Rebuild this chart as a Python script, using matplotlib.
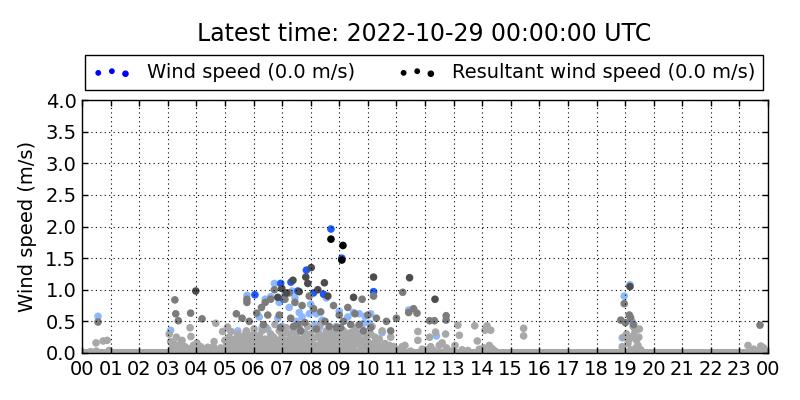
import numpy as np
import matplotlib
matplotlib.use("Agg")
import matplotlib.pyplot as plt
from matplotlib.collections import PathCollection
from matplotlib.legend_handler import HandlerPathCollection

# ---------------- data (hour of day, speed in m/s) ----------------
title_text = "Latest time: 2022-10-29 00:00:00 UTC"
hour_labels = ["%02d" % (h % 24) for h in range(25)]
y_ticks = [0.0, 0.5, 1.0, 1.5, 2.0, 2.5, 3.0, 3.5, 4.0]

# calm readings (0.0 m/s), one per minute
calm_hours = np.arange(0, 24.01, 1 / 60)
calm_values = np.zeros_like(calm_hours)

# wind speed, strong blue (most recent)
ws_blue_h = [8.71, 9.09, 7.85, 7.31, 6.95, 7.55, 8.45, 10.2, 6.05, 7.05, 8.1]
ws_blue_v = [1.96, 1.50, 1.31, 1.12, 1.10, 0.98, 0.93, 0.97, 0.92, 0.85, 0.95]

# wind speed, light blue
ws_light_h = [0.56, 3.10, 5.77, 6.41, 6.73, 6.60, 6.90, 7.10, 7.25, 7.45, 7.60, 7.70,
              8.00, 8.20, 8.40, 8.55, 8.90, 9.30, 9.50, 9.70, 9.85, 10.05, 6.20, 6.50,
              7.00, 7.80, 8.70, 9.20, 10.50, 18.97, 19.17, 19.25, 18.90, 12.40, 11.43,
              7.35, 7.95, 8.30, 9.00, 6.30, 10.10, 5.45, 6.85, 7.50, 8.15, 9.60, 9.90]
ws_light_v = [0.58, 0.36, 0.91, 0.85, 1.10, 0.89, 0.80, 0.92, 0.72, 0.87, 0.64, 0.57,
              0.77, 0.62, 0.52, 0.87, 0.42, 0.57, 0.64, 0.62, 0.47, 0.47, 0.57, 0.37,
              0.42, 0.32, 0.27, 0.32, 0.32, 0.90, 1.08, 0.50, 0.24, 0.27, 0.68,
              0.98, 0.62, 0.40, 0.66, 0.40, 0.62, 0.35, 0.55, 0.50, 0.45, 0.40, 0.58]

# resultant wind speed, black (most recent)
rs_black_h = [8.71, 9.13, 9.09]
rs_black_v = [1.80, 1.70, 1.47]

# resultant wind speed, dark grey
rs_dark_h = [8.02, 7.83, 7.90, 8.48, 10.20, 11.46, 3.98, 7.38, 6.99, 8.60, 7.60,
             12.35, 6.85, 8.25, 9.50, 19.17, 7.15]
rs_dark_v = [1.35, 1.20, 1.10, 1.11, 1.20, 1.19, 0.98, 1.15, 1.02, 0.90, 0.97,
             0.85, 0.88, 1.00, 0.88, 1.05, 0.95]

# resultant wind speed, mid grey
rs_mid_h = [0.56, 3.25, 5.77, 5.77, 6.41, 6.28, 6.11, 6.73, 6.60, 7.10, 7.25, 7.45,
            7.70, 7.95, 8.10, 8.35, 8.80, 9.00, 9.30, 9.55, 9.80, 10.00, 10.30, 10.65,
            11.22, 11.60, 11.00, 18.97, 19.15, 19.30, 18.85, 6.90, 7.30, 7.55, 8.50,
            9.15, 9.70, 10.80, 5.40, 5.60, 5.85, 6.50, 4.20, 3.80, 3.37, 3.28, 23.72,
            11.43, 11.72, 12.16, 12.33, 12.74, 12.74, 19.01, 19.19, 10.20,
            6.95, 7.40, 7.80, 8.20, 8.65, 9.05, 9.40, 9.85, 10.10, 6.35, 7.65, 8.90]
rs_mid_v = [0.49, 0.84, 0.85, 0.80, 0.80, 0.72, 0.63, 1.00, 0.85, 0.85, 0.95, 0.80,
            0.75, 0.90, 0.70, 0.65, 0.75, 0.60, 0.72, 0.62, 0.85, 0.60, 0.55, 0.50,
            0.96, 0.70, 0.55, 0.78, 0.60, 0.45, 0.52, 0.60, 0.55, 0.45, 0.50,
            0.50, 0.45, 0.35, 0.62, 0.55, 0.50, 0.60, 0.54, 0.63, 0.51, 0.62, 0.44,
            0.64, 0.63, 0.51, 0.51, 0.59, 0.52, 0.48, 0.56, 0.90,
            0.40, 0.42, 0.48, 0.38, 0.42, 0.40, 0.45, 0.35, 0.40, 0.45, 0.35, 0.40]

# resultant wind speed, light grey (older readings)
rs_light_h = [0.30, 0.50, 0.49, 0.74, 0.88, 0.95,
              3.05, 3.10, 3.15, 3.20, 3.30, 3.35, 3.45, 3.50, 3.55, 3.60, 3.70, 3.78,
              3.81, 3.90, 3.95, 4.05, 4.15, 4.30, 4.40, 4.50, 4.68, 4.60, 4.75, 4.85,
              4.92, 5.00, 5.05, 5.09, 5.15, 5.21, 5.25, 5.30, 5.35, 5.40, 5.45, 5.50,
              5.55, 5.60, 5.65, 5.70, 5.75, 5.80, 5.85, 5.90, 5.95, 6.00, 6.05, 6.10,
              6.15, 6.20, 6.25, 6.30, 6.35, 6.40, 6.45, 6.50, 6.55, 6.60, 6.65, 6.70,
              6.75, 6.80, 6.85, 6.90, 6.95, 7.00, 7.05, 7.10, 7.15, 7.20, 7.25, 7.30,
              7.35, 7.40, 7.45, 7.50, 7.55, 7.60, 7.65, 7.70, 7.75, 7.80, 7.85, 7.90,
              7.95, 8.00, 8.05, 8.10, 8.15, 8.20, 8.25, 8.30, 8.35, 8.40, 8.45, 8.50,
              8.55, 8.60, 8.65, 8.70, 8.75, 8.80, 8.85, 8.90, 8.95, 9.00, 9.05, 9.10,
              9.15, 9.20, 9.25, 9.30, 9.35, 9.40, 9.45, 9.50, 9.55, 9.60, 9.65, 9.70,
              9.75, 9.80, 9.85, 9.90, 9.95, 10.00, 10.05, 10.10, 10.15, 10.20, 10.25,
              10.30, 10.35, 10.45, 10.50, 10.60, 10.70, 10.80, 10.90, 11.10, 11.30,
              11.20, 11.50, 11.75, 11.75, 11.90, 12.16, 12.20, 12.30, 12.37, 12.50,
              12.72, 12.75, 12.90, 13.15, 13.20, 13.30, 13.50, 13.74, 13.83, 13.90,
              14.10, 14.17, 14.30, 14.25, 14.35, 14.45, 15.45, 15.45,
              18.90, 18.95, 19.05, 19.10, 19.20, 19.28, 19.35, 19.40, 19.45, 19.50,
              19.55, 19.30, 23.30, 23.50, 23.65, 23.75, 23.85]
rs_light_v = [0.02, 0.03, 0.16, 0.19, 0.20, 0.04,
              0.30, 0.18, 0.08, 0.12, 0.25, 0.05, 0.15, 0.20, 0.04, 0.10, 0.07, 0.40,
              0.26, 0.12, 0.05, 0.08, 0.10, 0.06, 0.09, 0.05, 0.47, 0.10, 0.04, 0.08,
              0.34, 0.20, 0.10, 0.41, 0.25, 0.34, 0.12, 0.18, 0.22, 0.08, 0.30, 0.15,
              0.25, 0.05, 0.20, 0.12, 0.35, 0.28, 0.18, 0.08, 0.22, 0.30, 0.12, 0.20,
              0.05, 0.28, 0.15, 0.35, 0.10, 0.22, 0.40, 0.18, 0.05, 0.30, 0.12, 0.25,
              0.45, 0.08, 0.20, 0.35, 0.15, 0.28, 0.05, 0.20, 0.40, 0.12, 0.30, 0.22,
              0.08, 0.35, 0.18, 0.27, 0.10, 0.40, 0.20, 0.05, 0.32, 0.15, 0.25, 0.42,
              0.10, 0.30, 0.20, 0.05, 0.38, 0.25, 0.12, 0.30, 0.45, 0.18, 0.08, 0.28,
              0.35, 0.15, 0.22, 0.05, 0.32, 0.12, 0.25, 0.18, 0.40, 0.30, 0.08, 0.22,
              0.35, 0.12, 0.28, 0.18, 0.05, 0.32, 0.22, 0.10, 0.38, 0.25, 0.15, 0.30,
              0.05, 0.20, 0.35, 0.12, 0.25, 0.18, 0.08, 0.30, 0.42, 0.15, 0.25,
              0.05, 0.20, 0.10, 0.35, 0.15, 0.05, 0.25, 0.10, 0.05, 0.12,
              0.10, 0.03, 0.34, 0.20, 0.06, 0.25, 0.10, 0.04, 0.33, 0.12,
              0.30, 0.08, 0.03, 0.44, 0.28, 0.05, 0.04, 0.43, 0.19, 0.06,
              0.36, 0.43, 0.36, 0.12, 0.07, 0.03, 0.39, 0.27,
              0.10, 0.25, 0.30, 0.15, 0.05, 0.42, 0.35, 0.20, 0.12, 0.38,
              0.05, 0.28, 0.12, 0.06, 0.04, 0.11, 0.08]

# more light grey readings in the busy morning hours
rs_light2_h = [3.22, 3.62, 4.02, 4.22, 4.62, 5.02, 5.12, 5.27, 5.42, 5.62, 5.82, 5.97,
               6.12, 6.27, 6.42, 6.57, 6.72, 6.87, 7.02, 7.17, 7.32, 7.47, 7.62, 7.77,
               7.92, 8.07, 8.22, 8.37, 8.52, 8.67, 8.82, 8.97, 9.12, 9.27, 9.42, 9.57,
               9.72, 9.87, 10.02, 10.17, 10.32, 10.55, 10.75, 11.00, 12.05, 12.60,
               13.05, 14.05, 19.15, 19.38, 19.48, 5.72, 6.62, 7.12, 7.72, 8.42, 9.02,
               9.62, 10.40, 6.02, 8.92, 9.48]
rs_light2_v = [0.14, 0.06, 0.16, 0.04, 0.18, 0.06, 0.14, 0.07, 0.16, 0.10, 0.06, 0.14,
               0.08, 0.18, 0.06, 0.12, 0.16, 0.10, 0.13, 0.07, 0.15, 0.08, 0.16, 0.10,
               0.22, 0.14, 0.06, 0.18, 0.12, 0.16, 0.08, 0.14, 0.06, 0.16, 0.10, 0.14,
               0.18, 0.08, 0.12, 0.06, 0.15, 0.08, 0.12, 0.06, 0.05, 0.16,
               0.12, 0.08, 0.22, 0.08, 0.25, 0.30, 0.24, 0.33, 0.22, 0.24, 0.26,
               0.22, 0.22, 0.38, 0.30, 0.28]

legend_ws = "Wind speed (0.0 m/s)"
legend_rs = "Resultant wind speed (0.0 m/s)"

# ---------------- figure ----------------
fig = plt.figure(figsize=(8, 4), dpi=100)
fig.patch.set_facecolor("white")
ax = fig.add_axes([82 / 800, 47 / 400, 686 / 800, 253 / 400])

S = 30
ax.scatter(calm_hours, calm_values, s=S, c="#a8a8a8", edgecolors="none", zorder=2)
ax.scatter(ws_light_h, ws_light_v, s=S, c="#8db8ff", edgecolors="none", zorder=2)
ax.scatter(ws_blue_h, ws_blue_v, s=S, c="#1a5aff", edgecolors="none", zorder=2)
ax.scatter(rs_light_h, rs_light_v, s=S, c="#a8a8a8", edgecolors="none", zorder=2)
ax.scatter(rs_light2_h, rs_light2_v, s=S, c="#a8a8a8", edgecolors="none", zorder=2)
ax.scatter(rs_mid_h, rs_mid_v, s=S, c="#7c7c7c", edgecolors="none", zorder=2)
ax.scatter(rs_dark_h, rs_dark_v, s=S, c="#4c4c4c", edgecolors="none", zorder=2)
ax.scatter(rs_black_h, rs_black_v, s=S, c="#000000", edgecolors="none", zorder=2)

ax.set_xlim(0, 24)
ax.set_ylim(0, 4)
ax.set_xticks(range(25))
ax.set_xticklabels(hour_labels)
ax.set_yticks(y_ticks)
ax.set_yticklabels(["%.1f" % v for v in y_ticks])
ax.grid(True, color="black", linestyle=(0, (1, 3)), linewidth=0.8, zorder=3)
ax.set_axisbelow(False)
ax.tick_params(direction="in", top=True, right=True, length=4, width=1,
               labelsize=14, colors="black")
ax.tick_params(axis="x", pad=5)
ax.tick_params(axis="y", pad=4)
for sp in ax.spines.values():
    sp.set_linewidth(1)
    sp.set_color("black")
ax.set_ylabel("Wind speed (m/s)", fontsize=14, labelpad=6)

fig.text(424 / 800, 1 - 34 / 400, title_text, ha="center", va="center", fontsize=17)

h1 = ax.scatter([], [], s=12, c="blue", label=legend_ws)
h2 = ax.scatter([], [], s=12, c="black", label=legend_rs)
leg = fig.legend(handles=[h1, h2], loc="center",
                 bbox_to_anchor=(424 / 800, 1 - 72.5 / 400), ncol=2, fontsize=14,
                 frameon=True, fancybox=False, edgecolor="black", framealpha=1,
                 handlelength=2.0, handletextpad=0.8, columnspacing=2.2,
                 borderpad=0.4, scatterpoints=3,
                 handler_map={PathCollection: HandlerPathCollection(sizes=[10, 10, 14])})
leg.get_frame().set_linewidth(1)

fig.savefig("out.png", dpi=100, facecolor="white")
